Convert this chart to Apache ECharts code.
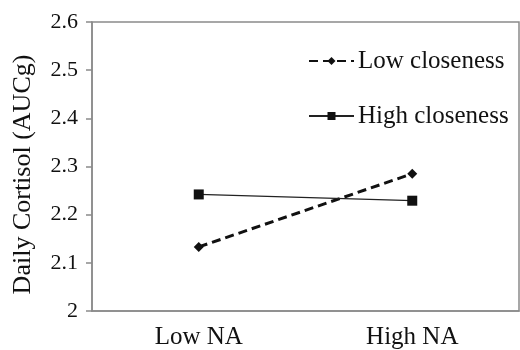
<!DOCTYPE html>
<html><head><meta charset="utf-8">
<script src="https://cdn.jsdelivr.net/npm/echarts@6/dist/echarts.min.js"></script>
<style>html,body{margin:0;padding:0;background:#fff}#c{width:520px;height:350px}</style>
</head><body><div id="c"></div>
<script>
const categories = ['Low NA', 'High NA'];
const lowCloseness = [2.133, 2.285];
const highCloseness = [2.242, 2.229];
const yMin = 2, yMax = 2.6, yStep = 0.1;
const yTitle = 'Daily Cortisol (AUCg)';
const font = 'Liberation Serif';
const chart = echarts.init(document.getElementById('c'));
chart.setOption({
  animation: false,
  grid: { left: 92, right: 1, top: 22, bottom: 39, show: true, borderColor: '#8a8a8a', borderWidth: 1.5 },
  legend: {
    orient: 'vertical', left: 303, top: 43, itemGap: 29, itemWidth: 45, itemHeight: 10,
    textStyle: { fontFamily: font, fontSize: 25, lineHeight: 26, color: '#111', padding: [0,0,0,-1] },
    data: ['Low closeness', 'High closeness']
  },
  xAxis: {
    type: 'category', data: categories, boundaryGap: true,
    axisLine: { lineStyle: { color: '#8a8a8a', width: 1.5 } },
    axisTick: { show: false },
    axisLabel: { fontFamily: font, fontSize: 25, color: '#111', margin: 14 }
  },
  yAxis: {
    type: 'value', min: yMin, max: yMax, interval: yStep,
    name: yTitle, nameLocation: 'middle', nameGap: 56,
    nameTextStyle: { fontFamily: font, fontSize: 26, color: '#111', padding: [0, 16, 0, 0] },
    splitLine: { show: false },
    axisLine: { show: true, lineStyle: { color: '#8a8a8a', width: 1.5 } },
    axisTick: { show: true, length: 6, lineStyle: { color: '#8a8a8a', width: 1.5 } },
    axisLabel: { fontFamily: font, fontSize: 22, color: '#111', margin: 14,
      formatter: v => (Math.round(v*10)/10).toString() }
  },
  series: [
    { name: 'Low closeness', type: 'line', data: lowCloseness, symbol: 'diamond', symbolSize: 10,
      lineStyle: { color: '#111', width: 3, type: [9, 5] }, itemStyle: { color: '#111' } },
    { name: 'High closeness', type: 'line', data: highCloseness, symbol: 'rect', symbolSize: 10,
      lineStyle: { color: '#222', width: 1.3 }, itemStyle: { color: '#111' } }
  ]
});
</script></body></html>
